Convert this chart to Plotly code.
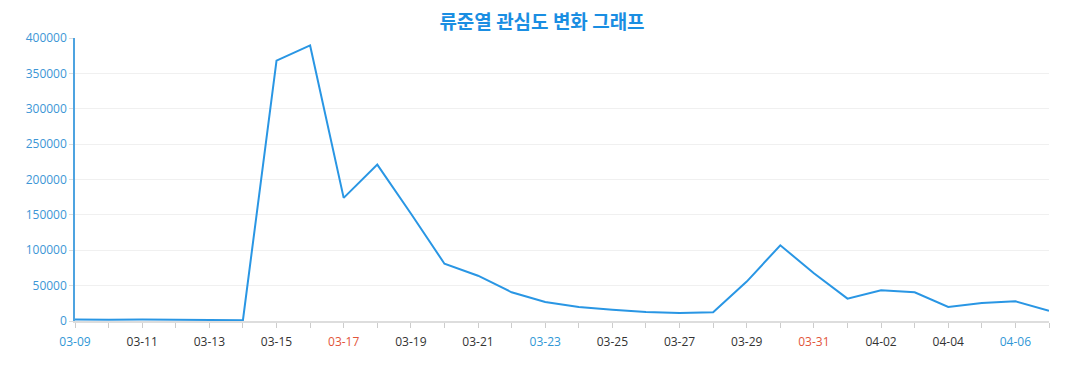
import plotly.graph_objects as go

dates = ["03-09", "03-10", "03-11", "03-12", "03-13", "03-14", "03-15", "03-16", "03-17", "03-18",
         "03-19", "03-20", "03-21", "03-22", "03-23", "03-24", "03-25", "03-26", "03-27", "03-28",
         "03-29", "03-30", "03-31", "04-01", "04-02", "04-03", "04-04", "04-05", "04-06", "04-07"]
values = [2200, 1600, 2100, 1600, 1300, 1100, 368000, 389500, 174000, 221000,
          152000, 81000, 64000, 40600, 26900, 19800, 16000, 12700, 11300, 12300,
          55700, 107000, 67500, 31600, 43500, 40600, 19800, 25500, 27900, 14600]
saturdays = ["03-09", "03-23", "04-06"]
sundays = ["03-17", "03-31"]

title_text = "류준열 관심도 변화 그래프"
y_ticks = [0, 50000, 100000, 150000, 200000, 250000, 300000, 350000, 400000]

ticktext = []
for i, d in enumerate(dates):
    if i % 2 != 0:
        ticktext.append("")
    elif d in saturdays:
        ticktext.append('<span style="color:#2f97d6">' + d + '</span>')
    elif d in sundays:
        ticktext.append('<span style="color:#e2553a">' + d + '</span>')
    else:
        ticktext.append(d)

fig = go.Figure()
fig.add_trace(go.Scatter(
    x=dates, y=values, mode="lines",
    line=dict(color="#2996e4", width=2),
    hoverinfo="x+y",
))

fig.update_layout(
    width=1061, height=374,
    margin=dict(l=67, r=20, t=30, b=61),
    paper_bgcolor="white", plot_bgcolor="white",
    showlegend=False,
    font=dict(family="Open Sans, Noto Sans CJK KR, sans-serif", size=12, color="#333333"),
    title=dict(text="<b>" + title_text + "</b>", x=0.5033, xanchor="center", y=0.962, yanchor="middle",
               font=dict(family="Noto Sans CJK KR, sans-serif", size=19, color="#1a8ee2")),
    xaxis=dict(
        type="category", range=[0, len(dates) - 1], automargin=False,
        tickmode="array", tickvals=dates, ticktext=ticktext,
        ticks="outside", ticklen=5, tickcolor="#cccccc", tickwidth=1,
        ticklabelstandoff=4,
        showline=True, linecolor="#dddddd", linewidth=2,
        showgrid=False, zeroline=False,
        tickfont=dict(size=12, color="#333333"),
    ),
    yaxis=dict(
        range=[0, 400000], tickmode="array", tickvals=y_ticks, automargin=False,
        ticktext=[str(v) for v in y_ticks],
        ticks="outside", ticklen=4, tickcolor="#dddddd",
        showline=True, linecolor="#4ea3e0", linewidth=1.5,
        showgrid=True, gridcolor="#f0f0f0", gridwidth=1,
        zeroline=False,
        tickfont=dict(size=12, color="#3d96d6"),
    ),
)

fig.write_html("out.html")
